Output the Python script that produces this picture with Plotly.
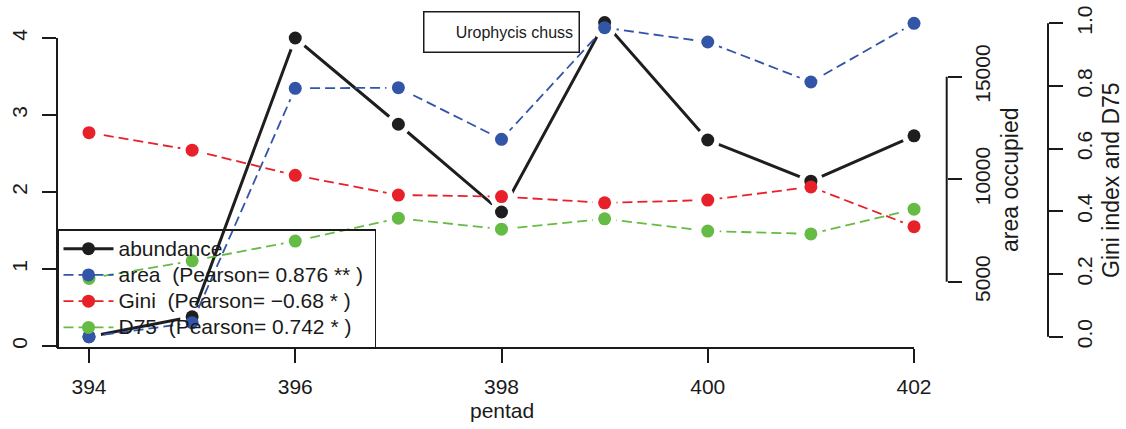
import plotly.graph_objects as go

# ---------------- data ----------------
pentad = [394, 395, 396, 397, 398, 399, 400, 401, 402]
abundance = [0.12, 0.38, 4.0, 2.88, 1.74, 4.2, 2.675, 2.14, 2.73]
area = [2317, 3000, 14434, 14463, 11946, 17390, 16693, 14741, 17605]
gini = [0.651, 0.595, 0.515, 0.452, 0.447, 0.427, 0.436, 0.478, 0.351]
d75 = [0.186, 0.242, 0.305, 0.378, 0.343, 0.376, 0.337, 0.328, 0.407]

x_ticks = [394, 396, 398, 400, 402]
y1_ticks = [0, 1, 2, 3, 4]
y2_ticks = [5000, 10000, 15000]
y2_ticktext = ["5000", "10000", "15000"]
y3_ticks = [0.0, 0.2, 0.4, 0.6, 0.8, 1.0]
y3_ticktext = ["0.0", "0.2", "0.4", "0.6", "0.8", "1.0"]

legend_names = [
    "abundance",
    "area\u00a0\u00a0(Pearson= 0.876 ** )",
    "Gini\u00a0\u00a0(Pearson= \u22120.68 * )",
    "D75\u00a0\u00a0(Pearson= 0.742 * )",
]
title_text = "Urophycis chuss"

# ---------------- style ----------------
FONT = "Liberation Sans, Arial, Helvetica, sans-serif"
INK = "#1a1a1a"
BLACK = "#1e1e1e"
BLUE = "#3355a8"
RED = "#e8202a"
GREEN = "#66bb44"

W, H = 1126, 429
ML, MR, MT, MB = 57, 0, 10, 81

DASH = "10px,5px"
# values, axis for lines, axis for points (same scale, drawn on a higher layer)
series = [
    (abundance, "y", "y4", BLACK, "solid", 3.0),
    (area, "y2", "y5", BLUE, DASH, 1.8),
    (gini, "y3", "y6", RED, DASH, 1.8),
    (d75, "y3", "y6", GREEN, DASH, 1.8),
]

fig = go.Figure()

# lines with white halos around points (R type="b" gaps)
for vals, yax, yax_pts, col, dash, lw in series:
    fig.add_trace(go.Scatter(
        x=pentad, y=vals, yaxis=yax, mode="lines+markers",
        line=dict(color=col, width=lw, dash=dash),
        marker=dict(size=24, color="white", line=dict(width=0)),
        showlegend=False, hoverinfo="skip", cliponaxis=False,
    ))
# coloured points
for vals, yax, yax_pts, col, dash, lw in series:
    fig.add_trace(go.Scatter(
        x=pentad, y=vals, yaxis=yax_pts, mode="markers",
        marker=dict(size=13, color=col, line=dict(width=0)),
        showlegend=False, cliponaxis=False,
    ))
# legend entries (text at 21px, row pitch from a smaller legend font)
for (vals, yax, yax_pts, col, dash, lw), name in zip(series, legend_names):
    fig.add_trace(go.Scatter(
        x=[None], y=[None], yaxis=yax, mode="lines+markers",
        name='<span style="font-size:21px">' + name + "\u00a0</span>",
        line=dict(color=col, width=lw, dash=dash),
        marker=dict(size=13, color=col, line=dict(width=0)),
    ))

pw = W - ML - MR
ph = H - MT - MB
x_dom_end = (930 - ML) / pw
p2 = (946.7 - ML) / pw
p3 = (1048 - ML) / pw

tickfont = dict(family=FONT, size=21, color=INK)
common_y = dict(showgrid=False, zeroline=False, showline=False, ticks="outside",
                ticklen=14, tickwidth=2, tickcolor=INK, tickfont=tickfont,
                tickangle=-90, fixedrange=True)

xmin, xmax = 393.6897, 402.155
y1min, y1max = -0.026, 4.3636
y2min, y2max = 1766, 18254
y3min, y3max = -0.0361, 1.0424

hidden = dict(visible=False, overlaying="y", fixedrange=True, showgrid=False, zeroline=False)

fig.update_layout(
    width=W, height=H,
    margin=dict(l=ML, r=MR, t=MT, b=MB, autoexpand=False),
    paper_bgcolor="white", plot_bgcolor="white",
    font=dict(family=FONT, size=21, color=INK),
    xaxis=dict(domain=[0, x_dom_end], range=[xmin, xmax], showgrid=False, zeroline=False,
               showline=False, ticks="outside", ticklen=14, tickwidth=2, tickcolor=INK,
               tickvals=x_ticks, tickfont=tickfont, fixedrange=True, ticklabelstandoff=6),
    yaxis=dict(range=[y1min, y1max], tickvals=y1_ticks, ticklabelstandoff=7, **common_y),
    yaxis2=dict(range=[y2min, y2max], tickvals=y2_ticks, ticktext=y2_ticktext,
                overlaying="y", side="right", anchor="free", position=p2,
                ticklabelstandoff=3, **common_y),
    yaxis3=dict(range=[y3min, y3max], tickvals=y3_ticks, ticktext=y3_ticktext,
                overlaying="y", side="right", anchor="free", position=p3,
                ticklabelstandoff=4, **common_y),
    yaxis4=dict(range=[y1min, y1max], **hidden),
    yaxis5=dict(range=[y2min, y2max], **hidden),
    yaxis6=dict(range=[y3min, y3max], **hidden),
    legend=dict(x=0, y=0, xanchor="left", yanchor="bottom", bgcolor="rgba(0,0,0,0)",
                bordercolor=INK, borderwidth=1.5, font=dict(family=FONT, size=17.9, color=INK),
                itemwidth=50, tracegroupgap=0),
    showlegend=True,
)

# R-style partial axis lines
line_style = dict(color=INK, width=2)
fig.add_shape(type="line", xref="x", yref="paper", x0=xmin, x1=402, y0=0, y1=0, line=line_style)
fig.add_shape(type="line", xref="paper", yref="y", x0=0, x1=0, y0=y1min, y1=4, line=line_style)
fig.add_shape(type="line", xref="paper", yref="y2", x0=p2, x1=p2, y0=5000, y1=15000, line=line_style)
fig.add_shape(type="line", xref="paper", yref="y3", x0=p3, x1=p3, y0=0, y1=1, line=line_style)

def px(xp):
    return (xp - ML) / pw
def py(yp):
    return (H - MB - yp) / ph

fig.add_annotation(x=px(502), y=py(410), xref="paper", yref="paper", text="pentad",
                   showarrow=False, font=dict(family=FONT, size=21, color=INK),
                   xanchor="center", yanchor="middle")
fig.add_annotation(x=px(1010), y=py(180), xref="paper", yref="paper", text="area occupied",
                   showarrow=False, textangle=-90, font=dict(family=FONT, size=23, color=INK),
                   xanchor="center", yanchor="middle")
fig.add_annotation(x=px(1111), y=py(180), xref="paper", yref="paper", text="Gini index and D75",
                   showarrow=False, textangle=-90, font=dict(family=FONT, size=23, color=INK),
                   xanchor="center", yanchor="middle")
fig.add_annotation(x=px(501), y=py(31.5), xref="paper", yref="paper",
                   text=title_text + "\u00a0", showarrow=False,
                   font=dict(family=FONT, size=16, color=INK), align="right",
                   width=152, height=37, borderpad=1, bordercolor=INK, borderwidth=1.5,
                   bgcolor="white", xanchor="center", yanchor="middle")

fig.write_html("out.html")
